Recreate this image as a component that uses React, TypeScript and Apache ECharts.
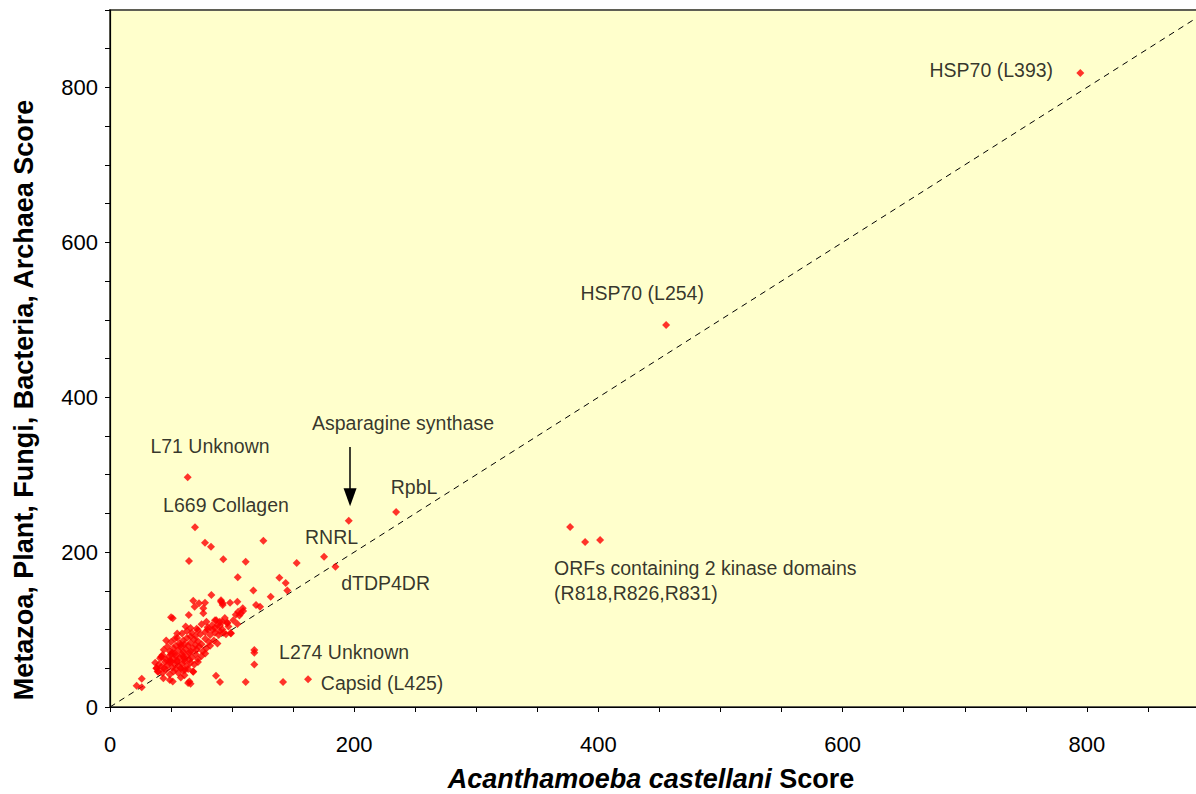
import React, { useEffect, useRef } from "react";
import * as echarts from "echarts";

// Cluster of genes (Acanthamoeba score, other-organism score)
const clusterPoints: number[][] = [
  [62, 104], [66, 102], [71, 101], [75, 107], [80, 103], [84, 100], [88, 106], [92, 110], [96, 108], [79, 110], [86, 112], [90, 105],
  [55, 95], [59, 95], [63, 98], [67, 96], [70, 92], [74, 94], [78, 97], [82, 93], [86, 96], [90, 98], [95, 94], [99, 95], [72, 99], [66, 91],
  [46, 86], [50, 84], [53, 88], [57, 82], [60, 86], [63, 89], [66, 83], [69, 87], [72, 85], [75, 81], [78, 88], [81, 84], [85, 86], [88, 82], [61, 81], [55, 89], [70, 80],
  [44, 74], [47, 78], [49, 72], [52, 76], [54, 79], [56, 73], [58, 77], [60, 71], [62, 75], [64, 79], [66, 72], [68, 76], [71, 74], [73, 78], [76, 72], [79, 76], [82, 79], [58, 80], [51, 70], [65, 70],
  [41, 63], [43, 67], [46, 61], [48, 65], [50, 68], [52, 62], [54, 66], [55, 60], [57, 64], [59, 68], [61, 62], [63, 66], [65, 61], [67, 64], [70, 68], [72, 62], [75, 66], [78, 69], [53, 69], [49, 60], [60, 65],
  [40, 55], [42, 52], [45, 58], [47, 54], [49, 57], [51, 51], [53, 55], [55, 58], [57, 52], [59, 56], [61, 59], [63, 53], [66, 57], [69, 55], [72, 58], [50, 59], [44, 50], [58, 50],
  [38, 50], [39, 46], [43, 44], [46, 48], [49, 42], [52, 46], [56, 44], [60, 47], [64, 49], [68, 46], [61, 41], [54, 49], [42, 65], [37, 57],
  [86, 102], [92, 100], [97, 104], [101, 112], [89, 93], [93, 96],
  [64.5, 118.8], [68.2, 137.3], [72.9, 133.9], [77.8, 134.7], [69.3, 129.5], [76.4, 127.4], [76.4, 121],
  [90.9, 138], [92.3, 134], [98.3, 134.7], [104.3, 136], [83, 144.5], [90.9, 136], [92.3, 131.7],
  [104.6, 167.5], [64.7, 188.5], [77.8, 212], [82.7, 207], [92.8, 190.7], [111.1, 187.7], [125.6, 214.8],
  [152.9, 186], [138.7, 167], [143.9, 160], [145.2, 150.5], [117.4, 150.5], [131.6, 142.5], [119.6, 131.7], [122.9, 129.5],
  [103, 119], [105, 123], [107, 121], [109, 124], [106, 118], [108.7, 127.4], [104.3, 107.2], [98.9, 95.5],
  [50, 115.8], [51.4, 114.5], [87, 112], [90, 110], [94, 115], [96, 109], [83.5, 105.5], [80, 100],
  [26, 36.6], [21.8, 27.5], [26, 25.4], [43.7, 37], [49, 35], [51.4, 33], [58, 38], [38.2, 50], [39.6, 45.6], [42.3, 65],
  [64, 31], [65, 33], [66, 30], [68.2, 45.6], [61.4, 47.8], [86.8, 40.5], [90.1, 32.3], [111.1, 32.3], [141.7, 32.3],
  [118.2, 73.6], [118.2, 70], [118.2, 54.9], [162.2, 35.8],
];

// Named / outlying genes
const namedPoints: number[][] = [
  [63.6, 296.6], [69.6, 232], [195.5, 240.5], [234.3, 251.8], [175.3, 194.1], [184.6, 181.2],
  [455.4, 493.3], [794.6, 818.7], [376.8, 232.4], [389.1, 213], [401.4, 215.6],
];

// Annotation texts and their anchor (data coordinates)
const annotationTexts: string[] = [
  "HSP70 (L393)", "HSP70 (L254)", "Asparagine synthase", "L71 Unknown", "L669 Collagen",
  "RpbL", "RNRL", "dTDP4DR", "L274 Unknown", "Capsid (L425)",
  "ORFs containing 2 kinase domains\n(R818,R826,R831)",
];
const annotationAnchors: number[][] = [
  [721.7, 822.6], [435.8, 534.6], [240, 366.7], [81.9, 337], [95, 260.8],
  [249, 284], [181.4, 219.5], [225.7, 160.1], [191.7, 71], [222.8, 31],
  [363.7, 163.4],
];

const diagonal: number[][] = [[0, 0], [900, 900]];
const arrowFrom: number[] = [196.6, 335.7];
const arrowTo: number[] = [196.6, 271];

const xTitle = "{i|Acanthamoeba castellani} Score";
const yTitle = "Metazoa, Plant, Fungi, Bacteria, Archaea Score";

const FONT = "'Liberation Sans', Arial, sans-serif";

export default function App() {
  const ref = useRef<HTMLDivElement>(null);
  useEffect(() => {
    document.body.style.margin = "0";
    document.documentElement.style.overflow = "hidden";
    if (!ref.current) return;
    const chart = echarts.init(ref.current, undefined, { renderer: "svg" });
    const axisCommon = {
      type: "value" as const,
      min: 0,
      max: 900,
      interval: 50,
      splitLine: { show: false },
      axisLine: { show: true, onZero: false, lineStyle: { color: "#000", width: 1.2 } },
      axisTick: { show: true, inside: false, length: 5, lineStyle: { color: "#000" } },
      axisLabel: {
        color: "#000",
        fontSize: 22,
        fontFamily: FONT,
        formatter: (v: number) => (v % 200 === 0 ? String(v) : ""),
      },
    };
    chart.setOption({
      animation: false,
      backgroundColor: "#ffffff",
      grid: {
        left: 110,
        top: 10,
        right: 6,
        bottom: 87,
        show: true,
        backgroundColor: "#FFFFCC",
        borderColor: "#5f5f55",
        borderWidth: 2,
      },
      xAxis: { ...axisCommon, axisLabel: { ...axisCommon.axisLabel, margin: 26 } },
      yAxis: { ...axisCommon, axisLabel: { ...axisCommon.axisLabel, margin: 12 } },
      series: [
        {
          type: "line",
          data: diagonal,
          showSymbol: false,
          silent: true,
          lineStyle: { color: "#000", width: 1, type: [6, 5] },
          z: 1,
        },
        {
          type: "scatter",
          data: clusterPoints,
          symbol: "diamond",
          symbolSize: [8, 8],
          itemStyle: { color: "#FF0000" },
          z: 3,
        },
        {
          type: "scatter",
          data: namedPoints,
          symbol: "diamond",
          symbolSize: [8, 8],
          itemStyle: { color: "#FF0000" },
          z: 3,
        },
        {
          type: "scatter",
          silent: true,
          symbolSize: 1,
          itemStyle: { color: "rgba(0,0,0,0)" },
          data: annotationTexts.map((t, i) => ({
            name: t,
            value: annotationAnchors[i],
            label: i === annotationTexts.length - 1 ? { align: "left", lineHeight: 25 } : undefined,
          })),
          label: {
            show: true,
            position: "inside",
            formatter: (p: any) => p.name,
            color: "#000",
            fontSize: 19.5,
            fontFamily: FONT,
          },
          markLine: {
            silent: true,
            symbol: ["none", "triangle"],
            symbolSize: [13, 18],
            label: { show: false },
            lineStyle: { color: "#000", width: 1.5, type: "solid" },
            data: [[{ coord: arrowFrom }, { coord: arrowTo }]],
          },
          z: 4,
        },
      ],
      graphic: [
        {
          type: "text",
          x: 651,
          y: 779,
          style: {
            text: xTitle,
            fontSize: 27,
            fontWeight: "bold",
            fontFamily: FONT,
            fill: "#000",
            align: "center",
            verticalAlign: "middle",
            rich: { i: { fontStyle: "italic", fontWeight: "bold", fontSize: 27, fontFamily: FONT } },
          },
        },
        {
          type: "text",
          x: 24,
          y: 400,
          rotation: Math.PI / 2,
          style: {
            text: yTitle,
            fontSize: 27,
            fontWeight: "bold",
            fontFamily: FONT,
            fill: "#000",
            align: "center",
            verticalAlign: "middle",
          },
        },
      ],
    });
    return () => chart.dispose();
  }, []);
  return (
    <div style={{ width: 1196, height: 794, overflow: "hidden", position: "relative" }}>
      <div ref={ref} style={{ width: 1215, height: 794 }} />
    </div>
  );
}
